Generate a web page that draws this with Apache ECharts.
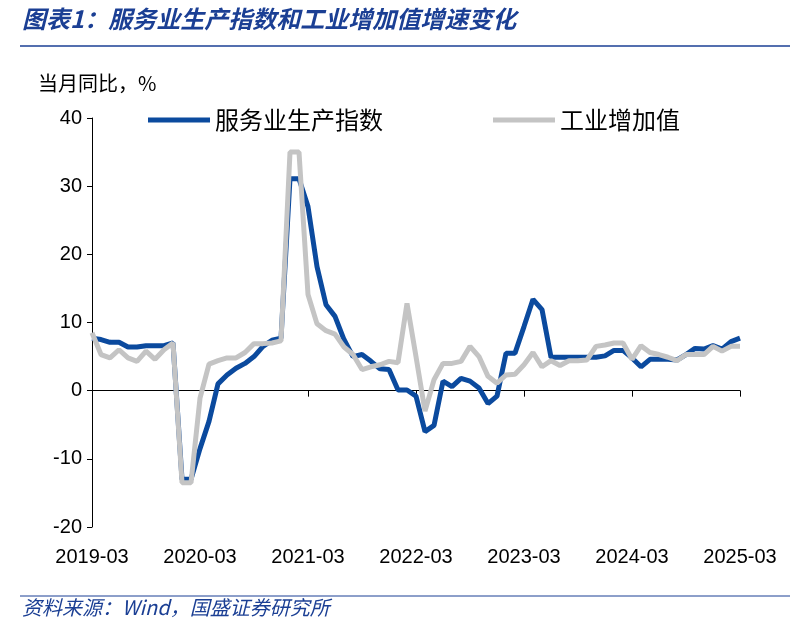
<!DOCTYPE html>
<html><head><meta charset="utf-8">
<script src="https://cdn.jsdelivr.net/npm/echarts@6/dist/echarts.min.js"></script>
<style>body{margin:0;background:#fff}#c{width:810px;height:629px}</style></head>
<body><div id="c"></div>
<script>
const months=[];for(let y=2019;y<=2025;y++)for(let m=1;m<=12;m++){const k=y*100+m;if(k>=201903&&k<=202503)months.push(y+'-'+String(m).padStart(2,'0'));}
const services=[7.7,7.5,7.1,7.1,6.4,6.4,6.6,6.6,6.6,7.0,-13,-13,-8.5,-4.5,1.0,2.3,3.3,4.0,5.0,6.5,7.4,7.7,31.1,31.1,27,18.2,12.6,10.9,7.5,5.0,5.3,4.3,3.2,3.1,0.1,0.1,-0.8,-6.0,-5.1,1.4,0.6,1.8,1.4,0.4,-1.9,-0.8,5.5,5.5,9.4,13.4,11.9,4.9,4.9,4.9,4.9,4.9,4.9,5.1,5.9,5.9,4.8,3.5,4.6,4.6,4.6,4.5,5.3,6.2,6.1,6.6,6.1,7.2,7.7];
const industry=[8.5,5.3,4.8,6.0,4.8,4.3,5.8,4.6,6.0,7.0,-13.5,-13.5,-1.1,3.9,4.4,4.8,4.8,5.6,6.9,6.9,7.0,7.3,35,35,14.1,9.8,8.8,8.3,6.4,5.3,3.1,3.5,3.8,4.3,4.1,12.8,5.0,-3.0,1.6,4.0,4.0,4.3,6.5,5.0,2.1,1.1,2.3,2.4,3.8,5.6,3.5,4.4,3.7,4.4,4.4,4.5,6.5,6.7,7.0,7.0,4.6,6.6,5.6,5.3,4.9,4.4,5.3,5.3,5.3,6.5,5.8,6.5,6.5];
const font='"Noto Sans CJK SC","Liberation Sans",sans-serif';
const chart=echarts.init(document.getElementById('c'));
chart.setOption({
 animation:false,
 graphic:[
  {type:'text',left:22,top:7,style:{text:'图表1：服务业生产指数和工业增加值增速变化',font:'italic bold 24px '+font,fill:'#1B3F94'}},
  {type:'line',shape:{x1:20,y1:46,x2:790,y2:46},style:{stroke:'#1B3F94',lineWidth:1.5}},
  {type:'text',left:38,top:73,style:{text:'当月同比，%',font:'20px '+font,fill:'#000'}},
  {type:'line',shape:{x1:20,y1:596,x2:790,y2:596},style:{stroke:'#1B3F94',lineWidth:1}},
  {type:'text',left:22,top:597,style:{text:'资料来源：Wind，国盛证券研究所',font:'italic 20px '+font,fill:'#1B3F94'}}
 ],
 legend:{top:103,left:143,itemGap:110,itemWidth:62,itemHeight:5,icon:'rect',
  textStyle:{fontSize:24,fontFamily:font,color:'#000'},data:['服务业生产指数','工业增加值']},
 grid:{left:92,right:70,top:118,bottom:102},
 xAxis:[
  {type:'category',data:months,boundaryGap:false,position:'bottom',axisLine:{show:false,onZero:false},axisTick:{show:false},
   axisLabel:{interval:11,fontSize:20,fontFamily:'Liberation Sans',color:'#000',margin:20}},
  {type:'category',data:months,boundaryGap:false,position:'bottom',axisLine:{onZero:true,lineStyle:{color:'#000',width:1}},
   axisTick:{interval:11,length:6,lineStyle:{color:'#000'}},axisLabel:{show:false}}
 ],
 yAxis:{type:'value',min:-20,max:40,interval:10,axisLine:{show:true,lineStyle:{color:'#000'}},
  axisTick:{show:true,length:5,lineStyle:{color:'#000'}},splitLine:{show:false},
  axisLabel:{fontSize:20,fontFamily:'Liberation Sans',color:'#000',margin:10}},
 series:[
  {name:'服务业生产指数',type:'line',data:services,symbol:'none',lineStyle:{width:5,color:'#0B4A9E'},itemStyle:{color:'#0B4A9E'},z:2},
  {name:'工业增加值',type:'line',data:industry,symbol:'none',lineStyle:{width:5,color:'#C4C4C4'},itemStyle:{color:'#C4C4C4'},z:3}
 ]
});
</script></body></html>
